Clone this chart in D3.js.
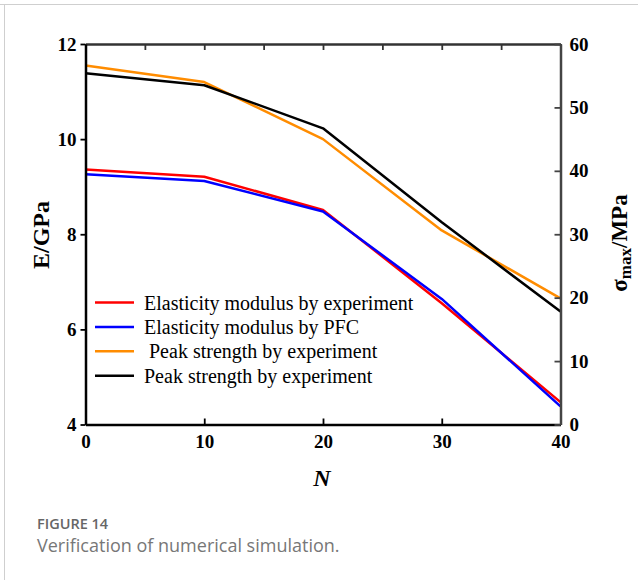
<!DOCTYPE html>
<html>
<head>
<meta charset="utf-8">
<script src="https://cdn.jsdelivr.net/npm/d3@7"></script>
<style>
  body { margin: 0; background: #fff; }
  svg { display: block; }
</style>
</head>
<body>
<svg id="chart" width="638" height="580"></svg>
<script>
// cycle counts on the x axis
const cycles = [0, 10, 20, 30, 40];

// elastic modulus, GPa (left axis)
const modulusExp = [9.36, 9.21, 8.51, 6.55, 4.47];
const modulusPfc = [9.26, 9.12, 8.48, 6.64, 4.38];

// peak strength, MPa (right axis)
const strengthExpA = [56.6, 54.0, 45.0, 30.6, 19.9];
const strengthExpB = [55.4, 53.5, 46.7, 31.9, 17.8];

const xTicks = [0, 10, 20, 30, 40];
const xMinorTicks = [0, 5, 10, 15, 20, 25, 30, 35, 40];
const leftTicks = [4, 6, 8, 10, 12];
const rightTicks = [0, 10, 20, 30, 40, 50, 60];

const legendLabels = [
  'Elasticity modulus by experiment',
  'Elasticity modulus by PFC',
  '\u00a0Peak strength by experiment',
  'Peak strength by experiment'
];

const svg = d3.select('#chart');
const serif = '"Liberation Serif", "Times New Roman", serif';

const plot = { left: 85.5, right: 560.5, top: 44, bottom: 424.5 };

const x = d3.scaleLinear().domain([0, 40]).range([plot.left, plot.right]);
const yE = d3.scaleLinear().domain([4, 12]).range([plot.bottom, plot.top]);
const yS = d3.scaleLinear().domain([0, 60]).range([plot.bottom, plot.top]);

// page frame (grey rule on top and left)
svg.append('line')
  .attr('x1', 0).attr('x2', 638).attr('y1', 4.5).attr('y2', 4.5)
  .attr('stroke', '#cfcfcf').attr('stroke-width', 1);
svg.append('line')
  .attr('x1', 4.5).attr('x2', 4.5).attr('y1', 4).attr('y2', 580)
  .attr('stroke', '#cfcfcf').attr('stroke-width', 1);

// series
const series = [
  { values: strengthExpA, y: yS, color: '#ff8c00' },
  { values: strengthExpB, y: yS, color: '#000000' },
  { values: modulusExp, y: yE, color: '#ff0000' },
  { values: modulusPfc, y: yE, color: '#0000ff' }
];

series.forEach((s) => {
  const line = d3.line()
    .x((d, i) => x(cycles[i]))
    .y(d => s.y(d));
  svg.append('path')
    .datum(s.values)
    .attr('d', line)
    .attr('fill', 'none')
    .attr('stroke', s.color)
    .attr('stroke-width', 2.5)
    .attr('stroke-linejoin', 'round');
});

// axes
const styleAxis = (g, color) => {
  g.select('.domain').attr('stroke', color).attr('stroke-width', 2.5);
  g.selectAll('.tick line').attr('stroke', color).attr('stroke-width', 1.8);
  g.selectAll('.tick text')
    .attr('font-family', serif)
    .attr('font-weight', 'bold')
    .attr('font-size', '19px')
    .attr('fill', '#000');
};

svg.append('g')
  .attr('transform', `translate(0,${plot.top})`)
  .call(d3.axisTop(x).tickValues(xMinorTicks).tickSize(-6).tickSizeOuter(0).tickFormat(''))
  .call(g => styleAxis(g, '#333'));

svg.append('g')
  .attr('transform', `translate(0,${plot.bottom})`)
  .call(d3.axisBottom(x).tickValues(xTicks).tickSize(-6).tickSizeOuter(0).tickPadding(10))
  .call(g => styleAxis(g, '#000'));

svg.append('g')
  .attr('transform', `translate(${plot.left},0)`)
  .call(d3.axisLeft(yE).tickValues(leftTicks).tickSize(5).tickSizeOuter(0).tickPadding(4))
  .call(g => styleAxis(g, '#000'));

svg.append('g')
  .attr('transform', `translate(${plot.right},0)`)
  .call(d3.axisRight(yS).tickValues(rightTicks).tickSize(-6).tickSizeOuter(0).tickPadding(9))
  .call(g => styleAxis(g, '#444'));

// axis titles
svg.append('text')
  .attr('transform', `translate(49,235) rotate(-90)`)
  .attr('text-anchor', 'middle')
  .attr('font-family', serif)
  .attr('font-weight', 'bold')
  .attr('font-size', '24px')
  .text('E/GPa');

const rightTitle = svg.append('text')
  .attr('transform', `translate(627,243) rotate(-90)`)
  .attr('text-anchor', 'middle')
  .attr('font-family', serif)
  .attr('font-weight', 'bold')
  .attr('font-size', '23px');
rightTitle.append('tspan').text('\u03c3');
rightTitle.append('tspan').attr('font-size', '17px').attr('dy', 4).text('max');
rightTitle.append('tspan').attr('dy', -4).text('/MPa');

svg.append('text')
  .attr('x', 322).attr('y', 486)
  .attr('text-anchor', 'middle')
  .attr('font-family', serif)
  .attr('font-weight', 'bold')
  .attr('font-style', 'italic')
  .attr('font-size', '24px')
  .text('N');

// legend
const legendColors = ['#ff0000', '#0000ff', '#ff8c00', '#000000'];
const legend = svg.append('g');
legendLabels.forEach((label, i) => {
  const ly = 302.5 + i * 24.4;
  legend.append('line')
    .attr('x1', 95).attr('x2', 134).attr('y1', ly).attr('y2', ly)
    .attr('stroke', legendColors[i]).attr('stroke-width', 2.5);
  legend.append('text')
    .attr('x', 144).attr('y', ly + 7)
    .attr('font-family', serif)
    .attr('font-size', '20px')
    .attr('fill', '#000')
    .text(label);
});

// caption
svg.append('text')
  .attr('x', 37).attr('y', 528.5)
  .attr('font-family', '"Open Sans", sans-serif')
  .attr('font-weight', 600)
  .attr('font-size', '14.5px')
  .attr('fill', '#666')
  .text('FIGURE 14');

svg.append('text')
  .attr('x', 37).attr('y', 552)
  .attr('font-family', '"Open Sans", sans-serif')
  .attr('font-size', '18px')
  .attr('fill', '#777')
  .text('Verification of numerical simulation.');
</script>
</body>
</html>
